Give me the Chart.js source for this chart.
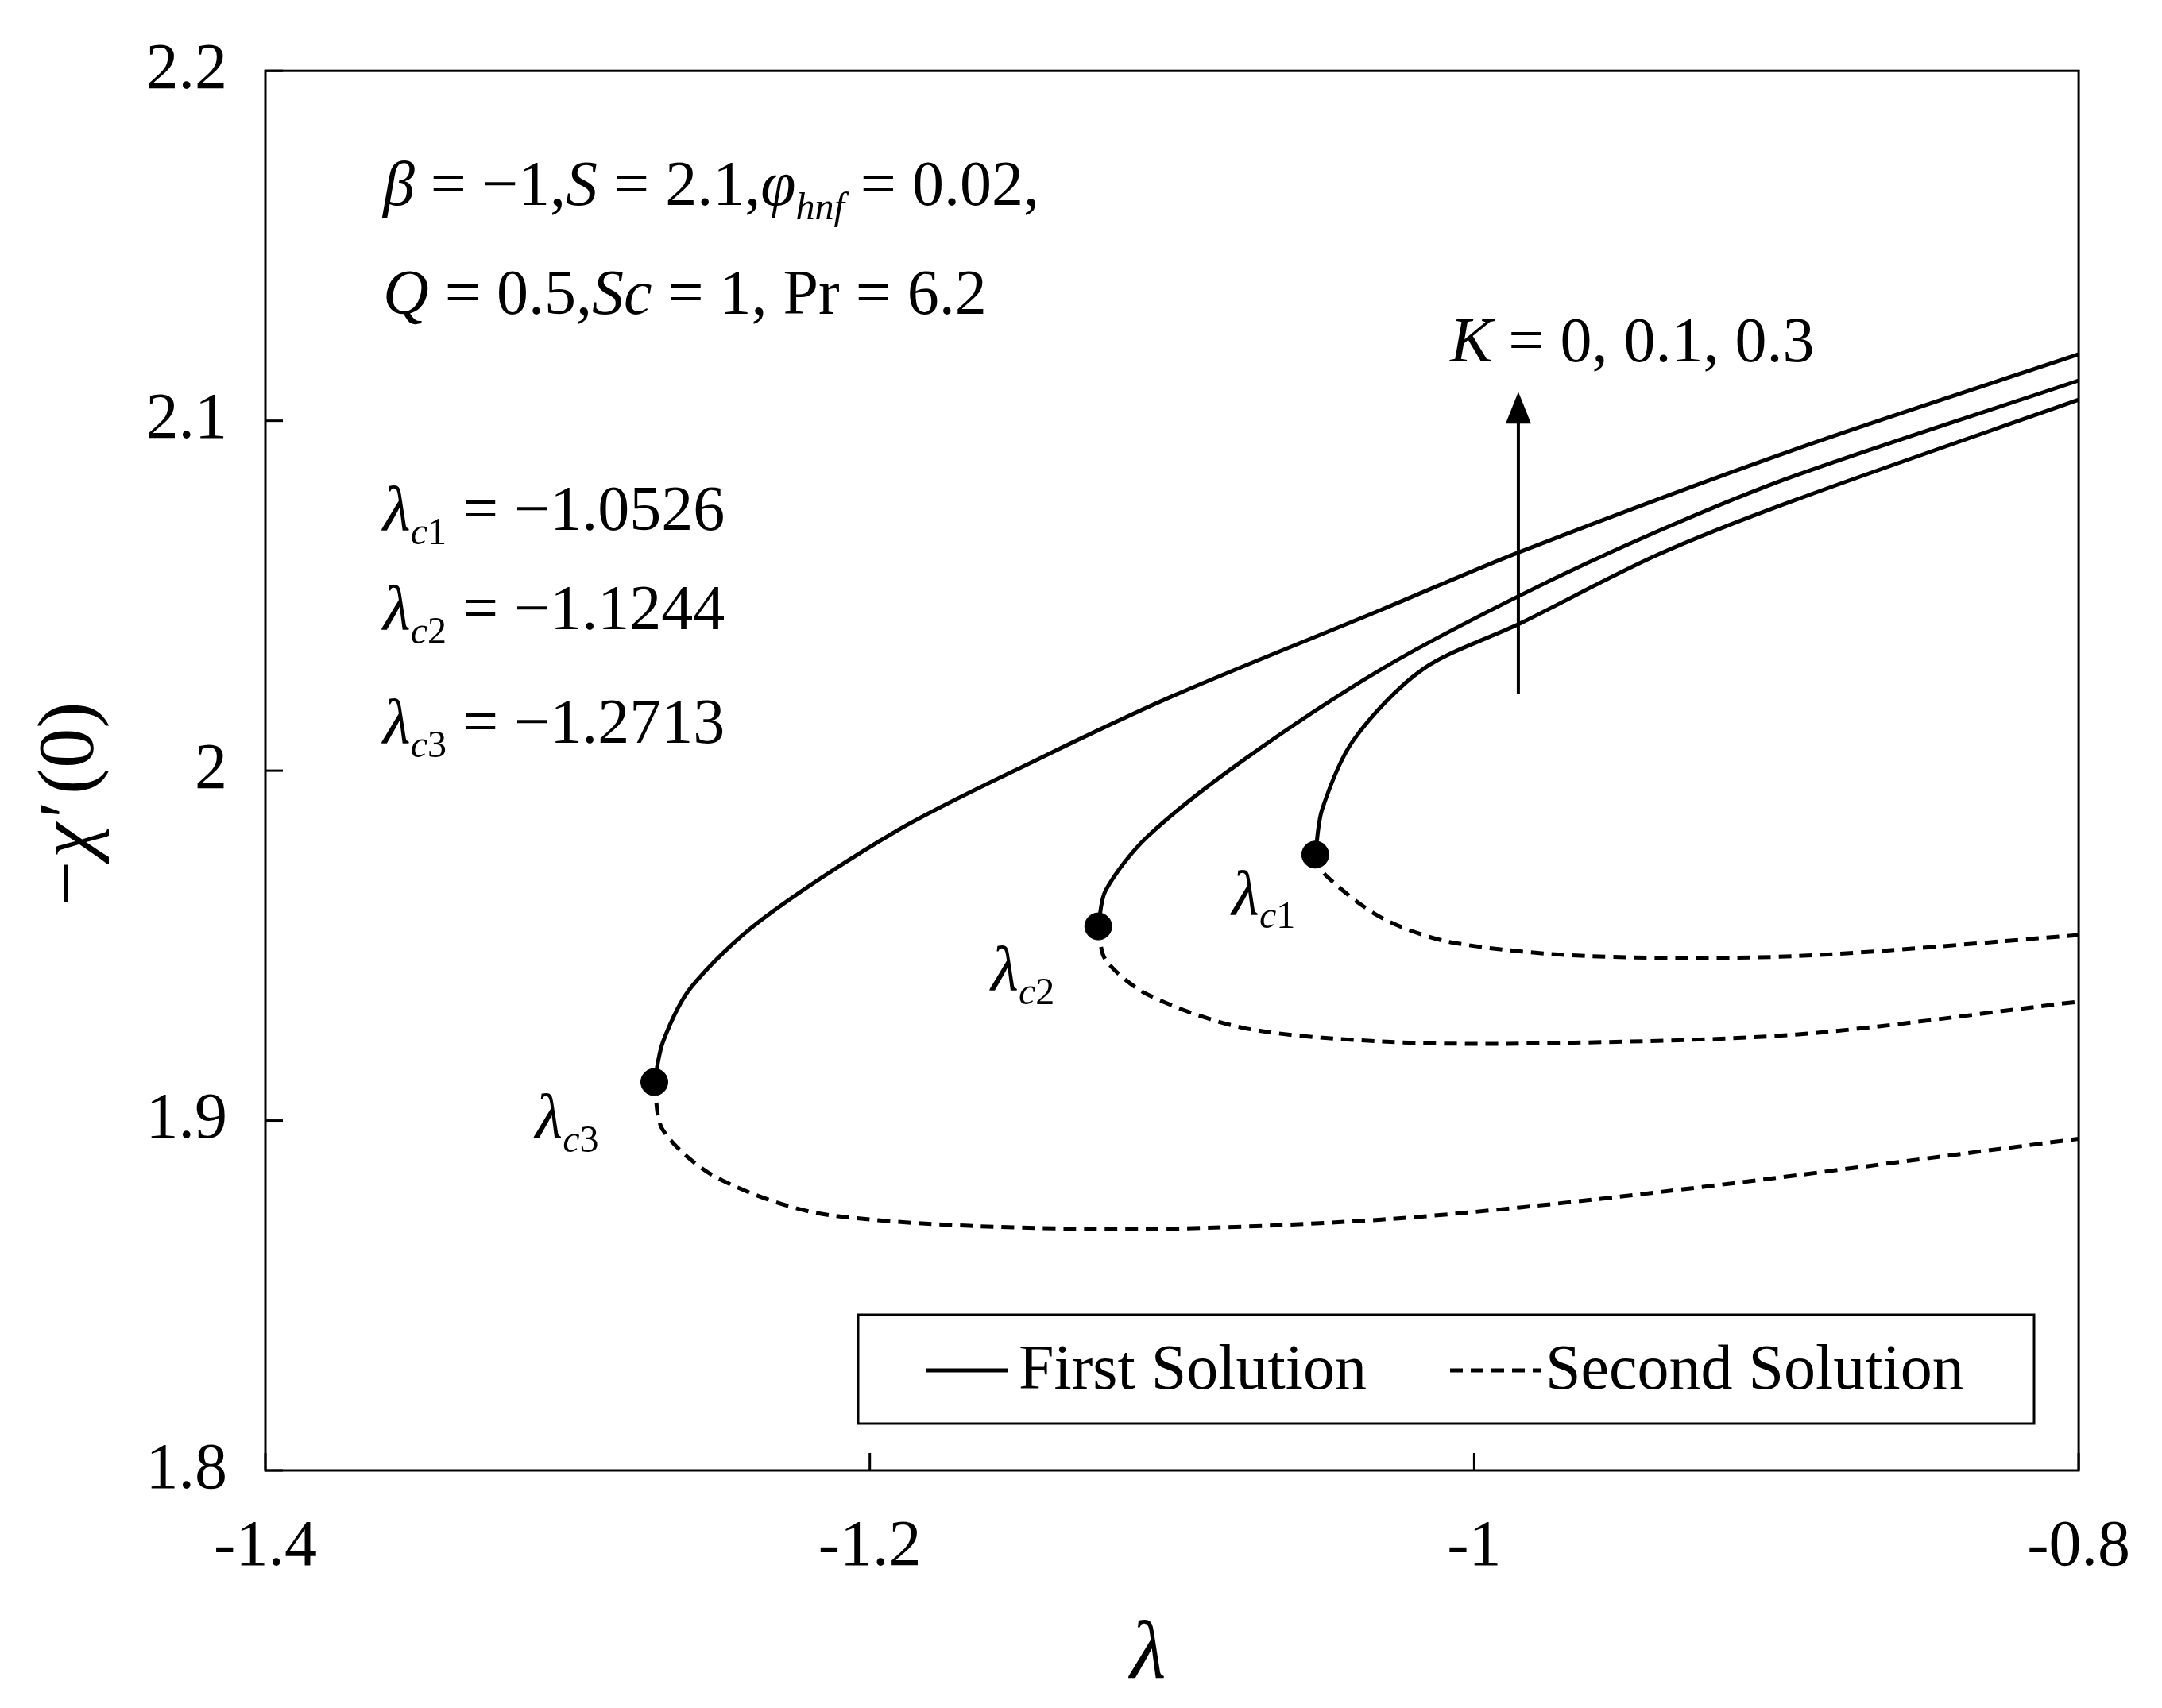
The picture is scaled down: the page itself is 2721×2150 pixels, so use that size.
<!DOCTYPE html>
<html lang="en">
<head>
<meta charset="UTF-8">
<title>Critical values chart</title>
<script src="https://cdn.jsdelivr.net/npm/chart.js"></script>
<style>
  body { margin: 0; background: #fff; }
</style>
</head>
<body>
<canvas id="chart" width="2721" height="2150"></canvas>
<script>
// data: lambda values and -chi'(0)
const firstK0X  = [-1.0526, -1.0503, -1.0399, -1.017, -0.985, -0.9393, -0.8936, -0.8];
const firstK0Y  = [1.976, 1.989, 2.0088, 2.0290, 2.042, 2.0617, 2.0774, 2.106];
const secondK0X = [-1.0526, -1.049, -1.0307, -1.0079, -0.962, -0.8936, -0.8];
const secondK0Y = [1.976, 1.970, 1.958, 1.951, 1.947, 1.947, 1.953];

const firstK1X  = [-1.1244, -1.1220, -1.1083, -1.0764, -1.0307, -0.985, -0.9393, -0.8936, -0.8];
const firstK1Y  = [1.9555, 1.9657, 1.981, 2.003, 2.029, 2.0500, 2.0684, 2.0844, 2.1115];
const secondK1X = [-1.1244, -1.122, -1.108, -1.0764, -1.0307, -0.985, -0.8936, -0.8];
const secondK1Y = [1.9555, 1.946, 1.936, 1.9265, 1.9226, 1.922, 1.9246, 1.934];

const firstK3X  = [-1.2713, -1.2684, -1.2592, -1.2364, -1.1907, -1.145, -1.0993, -1.0307, -0.985, -0.8936, -0.8];
const firstK3Y  = [1.911, 1.9226, 1.938, 1.957, 1.983, 2.003, 2.0215, 2.046, 2.0625, 2.0919, 2.119];
const secondK3X = [-1.2713, -1.2684, -1.25, -1.2135, -1.122, -1.0307, -0.9393, -0.8];
const secondK3Y = [1.911, 1.8972, 1.8834, 1.873, 1.869, 1.8717, 1.8795, 1.8948];

const critX = [-1.0526, -1.1244, -1.2713];
const critY = [1.976, 1.9555, 1.911];
const critNames = ['c', 'c', 'c'];
const critNums = ['1', '2', '3'];

const xTicks = [-1.4, -1.2, -1, -0.8];
const yTicks = [1.8, 1.9, 2, 2.1, 2.2];

function pts(xs, ys) { return xs.map((x, i) => ({ x: x, y: ys[i] })); }

function line(xs, ys, dashed) {
  return {
    data: pts(xs, ys), showLine: true, borderColor: '#000', borderWidth: 5,
    borderDash: dashed ? [16, 10] : [], pointRadius: 0, tension: 0.3, fill: false
  };
}

const SERIF = '"Liberation Serif", "DejaVu Serif", serif';

// draws the frame, inner ticks, labels, arrow and legend
const extras = {
  id: 'extras',
  afterDraw(chart) {
    const c = chart.ctx, a = chart.chartArea;
    const sx = chart.scales.x, sy = chart.scales.y;
    c.save();
    c.strokeStyle = '#000'; c.fillStyle = '#000'; c.lineWidth = 3;
    c.strokeRect(a.left, a.top, a.right - a.left, a.bottom - a.top);
    xTicks.forEach(v => {
      const px = sx.getPixelForValue(v);
      c.beginPath(); c.moveTo(px, a.bottom); c.lineTo(px, a.bottom - 22); c.stroke();
    });
    yTicks.forEach(v => {
      const py = sy.getPixelForValue(v);
      c.beginPath(); c.moveTo(a.left, py); c.lineTo(a.left + 22, py); c.stroke();
    });

    const fs = 80;
    // writes a run of [text, style] pieces; style: 'i' italic, 'n' normal, 's' italic sub, 'sn' normal sub
    function run(x, y, parts) {
      parts.forEach(p => {
        const t = p[0], st = p[1];
        const small = st === 's' || st === 'sn';
        c.font = (st === 'i' || st === 's' ? 'italic ' : '') + (small ? Math.round(fs * 0.6) : fs) + 'px ' + SERIF;
        c.fillText(t, x, small ? y + fs * 0.22 : y);
        x += c.measureText(t).width;
      });
    }
    c.textBaseline = 'alphabetic'; c.textAlign = 'left';
    run(482, 258, [['\u03B2', 'i'], [' = \u22121,', 'n'], ['S', 'i'], [' = 2.1,', 'n'], ['\u03C6', 'i'], ['hnf', 's'], [' = 0.02,', 'n']]);
    run(482, 395, [['Q', 'i'], [' = 0.5,', 'n'], ['Sc', 'i'], [' = 1, Pr = 6.2', 'n']]);

    run(482, 667, [['\u03BB', 'i'], ['c', 's'], ['1', 'sn'], [' = \u22121.0526', 'n']]);
    run(482, 792, [['\u03BB', 'i'], ['c', 's'], ['2', 'sn'], [' = \u22121.1244', 'n']]);
    run(482, 935, [['\u03BB', 'i'], ['c', 's'], ['3', 'sn'], [' = \u22121.2713', 'n']]);

    // labels at turning points
    const offs = [[-105, 75], [-135, 80], [-150, 70]];
    critX.forEach((v, i) => {
      const px = sx.getPixelForValue(v), py = sy.getPixelForValue(critY[i]);
      run(px + offs[i][0], py + offs[i][1], [['\u03BB', 'i'], [critNames[i], 's'], [critNums[i], 'sn']]);
    });

    // arrow for increasing K
    const ax = sx.getPixelForValue(-0.9854);
    const y0 = sy.getPixelForValue(2.022), y1 = sy.getPixelForValue(2.106);
    c.lineWidth = 4;
    c.beginPath(); c.moveTo(ax, y0); c.lineTo(ax, y1 + 20); c.stroke();
    c.beginPath(); c.moveTo(ax, y1 - 10); c.lineTo(ax - 16, y1 + 30); c.lineTo(ax + 16, y1 + 30); c.closePath(); c.fill();
    run(1825, 455, [['K', 'i'], [' = 0, 0.1, 0.3', 'n']]);

    // legend box
    c.lineWidth = 3;
    c.strokeRect(1080, 1655, 1480, 137);
    c.lineWidth = 5;
    c.beginPath(); c.moveTo(1165, 1725); c.lineTo(1268, 1725); c.stroke();
    c.setLineDash([16, 10]);
    c.beginPath(); c.moveTo(1825, 1725); c.lineTo(1940, 1725); c.stroke();
    c.setLineDash([]);
    c.font = fs + 'px ' + SERIF;
    c.textBaseline = 'middle';
    c.fillText('First Solution', 1282, 1727);
    c.fillText('Second Solution', 1945, 1727);

    // axis titles
    c.textAlign = 'center';
    c.font = 'italic 104px ' + SERIF;
    c.fillText('\u03BB', (a.left + a.right) / 2 - 30, 2085);
    c.translate(90, 960); c.rotate(-Math.PI / 2);
    c.textAlign = 'left';
    c.font = '100px ' + SERIF; c.fillText('\u2212', -180, 0);
    c.font = 'italic 100px ' + SERIF; c.fillText('\u03C7\u2032', -120, 0);
    c.font = '100px ' + SERIF; c.fillText('(0)', -40, 0);
    c.restore();
  }
};

new Chart(document.getElementById('chart'), {
  type: 'scatter',
  data: {
    datasets: [
      line(firstK0X, firstK0Y, false), line(secondK0X, secondK0Y, true),
      line(firstK1X, firstK1Y, false), line(secondK1X, secondK1Y, true),
      line(firstK3X, firstK3Y, false), line(secondK3X, secondK3Y, true),
      { data: pts(critX, critY), pointRadius: 17, pointBackgroundColor: '#000', pointBorderColor: '#000', showLine: false }
    ]
  },
  options: {
    responsive: false, devicePixelRatio: 1, animation: false,
    layout: { padding: { top: 73, right: 101, left: 0, bottom: 0 } },
    plugins: { legend: { display: false }, tooltip: { enabled: false } },
    scales: {
      x: {
        type: 'linear', min: -1.4, max: -0.8,
        afterFit: s => { s.height = 299; },
        afterBuildTicks: s => { s.ticks = xTicks.map(v => ({ value: v })); },
        grid: { display: false }, border: { display: false },
        ticks: { color: '#000', font: { family: SERIF, size: 82 }, padding: 40, maxRotation: 0,
                 callback: v => String(Math.round(v * 10) / 10) }
      },
      y: {
        min: 1.8, max: 2.2,
        afterFit: s => { s.width = 334; },
        afterBuildTicks: s => { s.ticks = yTicks.map(v => ({ value: v })); },
        grid: { display: false }, border: { display: false },
        ticks: { color: '#000', font: { family: SERIF, size: 82 }, padding: 40,
                 callback: v => String(Math.round(v * 10) / 10) }
      }
    }
  },
  plugins: [extras]
});
</script>
</body>
</html>
